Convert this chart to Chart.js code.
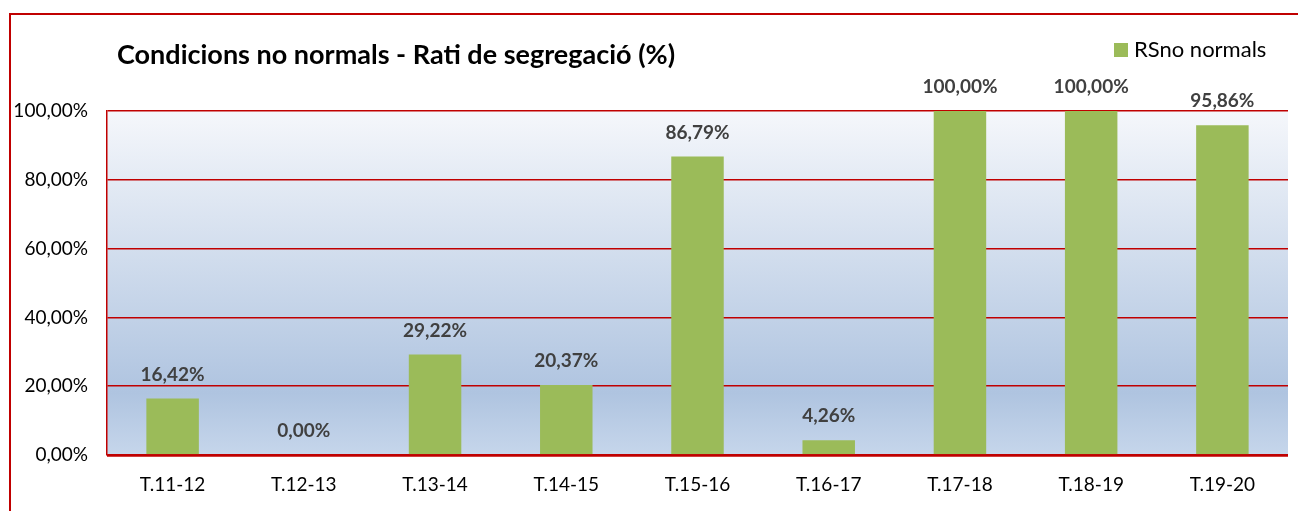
<!DOCTYPE html>
<html>
<head>
<meta charset="utf-8">
<script src="https://cdn.jsdelivr.net/npm/chart.js@4"></script>
<style>
  html, body { margin: 0; padding: 0; background: #fff; overflow: hidden; }
  #wrap { position: relative; width: 1298px; height: 511px; }
</style>
</head>
<body>
<div id="wrap"><canvas id="chart" width="1298" height="511"></canvas></div>
<script>
const categories = ["T.11-12", "T.12-13", "T.13-14", "T.14-15", "T.15-16", "T.16-17", "T.17-18", "T.18-19", "T.19-20"]
const ratiValues = [16.42, 0, 29.22, 20.37, 86.79, 4.26, 100, 100, 95.86]
const seriesName = "RSno normals"
const chartTitle = "Condicions no normals - Rati de segregació (%)"
const yTicks = [0, 20, 40, 60, 80, 100]

const FONT = "Lato, 'Open Sans', sans-serif"
const RED = "#C00000"
const GREEN = "#9BBB59"

const pct = (v) => v.toFixed(2).replace(".", ",") + "%"

const backgroundPlugin = {
  id: "plotBackground",
  beforeDraw(chart) {
    const { ctx, chartArea: a } = chart
    const g = ctx.createLinearGradient(0, a.top, 0, a.bottom)
    g.addColorStop(0, "#F5F7FB")
    g.addColorStop(0.82, "#AFC4E0")
    g.addColorStop(1, "#C6D6EB")
    ctx.save()
    ctx.fillStyle = g
    ctx.fillRect(a.left, a.top, a.right - a.left, a.bottom - a.top)
    ctx.restore()
  }
}

const decorPlugin = {
  id: "decor",
  afterDraw(chart) {
    const { ctx, chartArea: a } = chart
    ctx.save()
    // outer frame
    ctx.strokeStyle = RED
    ctx.lineWidth = 2
    ctx.strokeRect(10, 14, 1400, 600)

    // bottom axis line, a bit heavier
    ctx.beginPath()
    ctx.lineWidth = 2.5
    ctx.moveTo(a.left, a.bottom + 0.5)
    ctx.lineTo(a.right, a.bottom + 0.5)
    ctx.stroke()

    // title
    ctx.fillStyle = "#000"
    ctx.font = "bold 27px " + FONT
    ctx.textBaseline = "middle"
    ctx.textAlign = "left"
    ctx.fillText(chartTitle, 117, 55)

    // legend
    ctx.fillStyle = GREEN
    ctx.fillRect(1114, 43, 14, 14)
    ctx.fillStyle = "#000"
    ctx.font = "22px " + FONT
    ctx.fillText(seriesName, 1134, 50)
    ctx.restore()
  },
  afterDatasetsDraw(chart) {
    const { ctx } = chart
    const meta = chart.getDatasetMeta(0)
    ctx.save()
    ctx.font = "bold 19px " + FONT
    ctx.fillStyle = "#404040"
    ctx.textAlign = "center"
    ctx.textBaseline = "middle"
    meta.data.forEach((bar, i) => {
      ctx.fillText(pct(ratiValues[i]), bar.x, bar.y - 24)
    })
    ctx.restore()
  }
}

new Chart(document.getElementById("chart"), {
  type: "bar",
  data: {
    labels: categories,
    datasets: [{
      label: seriesName,
      data: ratiValues,
      backgroundColor: GREEN,
      borderWidth: 0,
      categoryPercentage: 1,
      barPercentage: 0.4
    }]
  },
  options: {
    responsive: false,
    animation: false,
    layout: {
      padding: { top: 111, right: 10, left: 0, bottom: 0 }
    },
    plugins: {
      legend: { display: false },
      title: { display: false },
      tooltip: { enabled: false }
    },
    scales: {
      x: {
        grid: { display: false, drawTicks: false },
        border: { display: false },
        ticks: {
          color: "#000",
          font: { family: FONT, size: 19 },
          padding: 18,
          maxRotation: 0
        },
        afterFit(scale) { scale.height = 56 }
      },
      y: {
        min: 0,
        max: 100,
        afterBuildTicks(scale) { scale.ticks = yTicks.map((v) => ({ value: v })) },
        grid: { color: RED, lineWidth: 1.5, drawTicks: false },
        border: { display: true, color: RED, width: 1.5 },
        ticks: {
          color: "#000",
          font: { family: FONT, size: 19 },
          padding: 19,
          callback: (v) => pct(v)
        },
        afterFit(scale) { scale.width = 107 }
      }
    }
  },
  plugins: [backgroundPlugin, decorPlugin]
})
</script>
</body>
</html>
